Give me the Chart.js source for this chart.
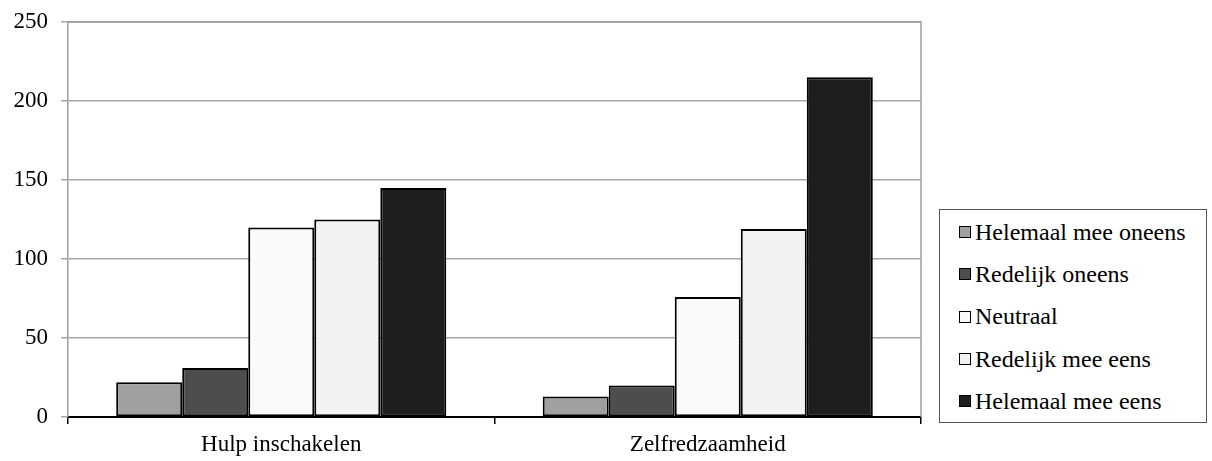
<!DOCTYPE html>
<html>
  <head>
    <meta charset="UTF-8" />
    <title>Hulp inschakelen / Zelfredzaamheid</title>
    <script src="https://cdn.jsdelivr.net/npm/chart.js"></script>
    <style>
      body { margin: 0; background: #fff; }
      #wrap { position: relative; width: 1212px; height: 461px; }
      #box { position: absolute; left: 0; top: 0; width: 930px; height: 461px; }
      #legenda {
        position: absolute; left: 939px; top: 209px; width: 268px;
        border: 1.5px solid #555; box-sizing: border-box;
        font-family: "Liberation Serif"; font-size: 24px; color: #000;
        padding: 1px 0 0 0;
      }
      .item { height: 42.3px; display: flex; align-items: center; padding-left: 19px; }
      .item span.sw { width: 10px; height: 10px; border: 1.5px solid #000; margin-right: 4px; }
    </style>
  </head>
  <body>
    <div id="wrap">
      <div id="box"><canvas id="grafiek"></canvas></div>
      <div id="legenda"></div>
    </div>

<script>
  const categorieen = ["Hulp inschakelen", "Zelfredzaamheid"];
  const reeksen = ["Helemaal mee oneens", "Redelijk oneens", "Neutraal", "Redelijk mee eens", "Helemaal mee eens"];
  const helemaalOneens = [22, 13];
  const redelijkOneens = [31, 20];
  const neutraal = [120, 76];
  const redelijkEens = [125, 119];
  const helemaalEens = [145, 215];
  const kleuren = ["#a0a0a0", "#4d4d4d", "#fafafa", "#f2f2f2", "#1e1e1e"];
  const waarden = [helemaalOneens, redelijkOneens, neutraal, redelijkEens, helemaalEens];

  Chart.defaults.font.family = "'Liberation Serif'";

  // kader rond het plotgebied (boven en rechts)
  const kader = {
    id: "kader",
    afterDraw(chart) {
      const a = chart.chartArea, ctx = chart.ctx;
      ctx.save();
      ctx.strokeStyle = "#a0a0a0";
      ctx.lineWidth = 1.5;
      ctx.beginPath();
      ctx.moveTo(a.left, a.top);
      ctx.lineTo(a.right, a.top);
      ctx.lineTo(a.right, a.bottom);
      ctx.stroke();
      ctx.restore();
    },
  };

  new Chart(grafiek, {
    type: "bar",
    data: {
      labels: categorieen,
      datasets: reeksen.map((naam, i) => ({
        label: naam,
        data: waarden[i],
        backgroundColor: kleuren[i],
        borderColor: "#000",
        borderWidth: 2,
        borderSkipped: false,
        categoryPercentage: 0.774,
        barPercentage: 1,
      })),
    },
    options: {
      responsive: true,
      maintainAspectRatio: false,
      animation: false,
      layout: { padding: { top: 22, right: 9, left: 0, bottom: 0 } },
      plugins: { legend: { display: false }, tooltip: { enabled: false } },
      scales: {
        x: {
          afterFit: (s) => { s.height = 44; },
          grid: { offset: true, drawOnChartArea: false, color: "#000", tickLength: 7, lineWidth: 1.5 },
          border: { color: "#000", width: 2 },
          ticks: { color: "#000", font: { size: 23 }, padding: 7 },
        },
        y: {
          min: 0,
          max: 250,
          afterFit: (s) => { s.width = 68; s.paddingTop = 0; s.paddingBottom = 0; },
          grid: { color: "#a6a6a6", tickLength: 7, lineWidth: 1.5 },
          border: { color: "#a0a0a0", width: 1.5 },
          ticks: { stepSize: 50, color: "#000", font: { size: 23 }, padding: 13 },
        },
      },
    },
    plugins: [kader],
  });

  // legenda
  reeksen.forEach((naam, i) => {
    const rij = document.createElement("div");
    rij.className = "item";
    rij.innerHTML = '<span class="sw" style="background:' + kleuren[i] + '"></span>' + naam;
    legenda.appendChild(rij);
  });
</script>
  </body>
</html>
